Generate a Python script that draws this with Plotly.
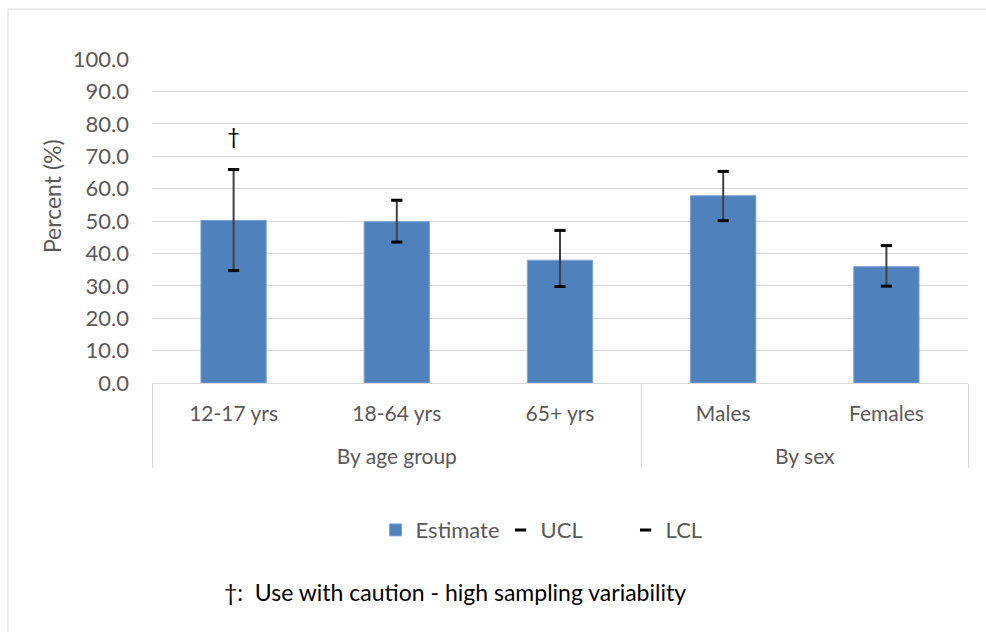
import plotly.graph_objects as go

groups = ["By age group", "By age group", "By age group", "By sex", "By sex"]
categories = ["12-17 yrs", "18-64 yrs", "65+ yrs", "Males", "Females"]
estimate = [50.2, 49.8, 37.9, 57.8, 35.9]
ucl = [65.9, 56.4, 47.1, 65.3, 42.4]
lcl = [34.7, 43.5, 29.8, 50.1, 29.9]
flags = ["†", "", "", "", ""]
y_ticks = [0, 10, 20, 30, 40, 50, 60, 70, 80, 90, 100]

FONT = "Lato"
GRID = "#D9D9D9"
TXT = "#595959"
FS = 22

x = [["<br>" + g for g in groups], categories]
err_plus = [u - e for u, e in zip(ucl, estimate)]
err_minus = [e - l for e, l in zip(estimate, lcl)]

fig = go.Figure()
fig.add_trace(go.Bar(
    x=x, y=estimate, name="Estimate",
    marker=dict(color="#4F81BD", line=dict(color="#7FA2D0", width=1)),
    error_y=dict(type="data", symmetric=False, array=err_plus, arrayminus=err_minus,
                 color="#404040", thickness=2, width=0),
))
fig.add_trace(go.Scatter(
    x=x, y=ucl, name="UCL", mode="markers",
    marker=dict(symbol="line-ew", size=8, line=dict(color="black", width=3)),
))
fig.add_trace(go.Scatter(
    x=x, y=lcl, name="LCL", mode="markers",
    marker=dict(symbol="line-ew", size=8, line=dict(color="black", width=3)),
))
fig.add_trace(go.Scatter(
    x=x, y=ucl, mode="markers+text", text=flags, textposition="top center",
    marker=dict(size=30, opacity=0), textfont=dict(family=FONT, size=22, color="black"),
    showlegend=False, hoverinfo="skip",
))

fig.update_layout(
    width=986, height=632,
    margin=dict(l=152, r=18, t=59, b=249),
    paper_bgcolor="white", plot_bgcolor="white",
    font=dict(family=FONT, size=FS, color=TXT),
    bargap=0.6,
    showlegend=True,
    legend=dict(orientation="h", x=0.274, xanchor="left", y=-0.454, yanchor="middle",
                font=dict(family=FONT, size=FS, color=TXT),
                entrywidth=80, entrywidthmode="pixels", traceorder="normal"),
    annotations=[
        dict(text="Percent (%)", xref="paper", yref="paper", x=-0.1225, y=0.577,
             textangle=-90, showarrow=False, font=dict(family=FONT, size=23, color=TXT),
             xanchor="center", yanchor="middle"),
        dict(text="†:  Use with caution - high sampling variability", xref="paper", yref="paper",
             x=0.0858, y=-0.645, xanchor="left", yanchor="middle", showarrow=False,
             font=dict(family=FONT, size=23, color="black")),
    ],
    shapes=[
        dict(type="rect", xref="paper", yref="paper", x0=-0.1765, y0=-0.8, x1=1.03, y1=1.154,
             line=dict(color=GRID, width=1), fillcolor="rgba(0,0,0,0)", layer="below"),
    ],
)
fig.update_yaxes(range=[0, 100], tickvals=y_ticks, tickformat=".1f", showgrid=True,
                 gridcolor=GRID, gridwidth=1, zeroline=False, showline=False,
                 ticklabelstandoff=22, tickfont=dict(family=FONT, size=FS, color=TXT))
fig.update_xaxes(type="multicategory", showline=True, linecolor=GRID, linewidth=1,
                 showdividers=True, dividercolor=GRID, dividerwidth=1, ticks="",
                 ticklabelstandoff=12,
                 tickfont=dict(family=FONT, size=FS - 1, color=TXT))

fig.write_html("out.html", config={"displayModeBar": False},
               post_script="document.body.style.margin='0';")
